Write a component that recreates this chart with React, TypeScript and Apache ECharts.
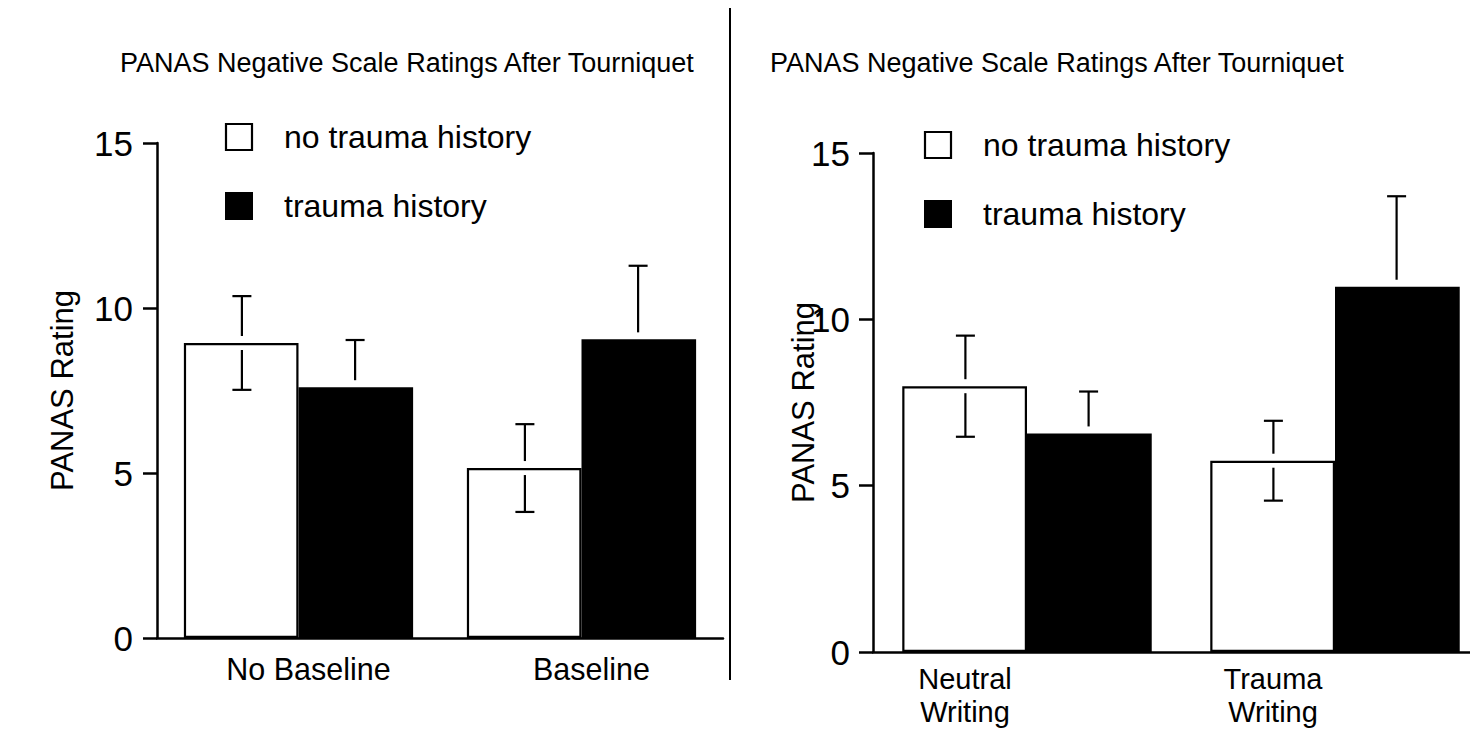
import React, { useEffect, useRef } from "react";
import * as echarts from "echarts";

const titleText = "PANAS Negative Scale Ratings After Tourniquet";
const yAxisTitle = "PANAS Rating";
const seriesNames = ["no trauma history", "trauma history"];
const yTicks = [0, 5, 10, 15];

const leftCategories = ["No Baseline", "Baseline"];
const leftNoTrauma = [8.94, 5.15];
const leftNoTraumaErr = [1.42, 1.33];
const leftTrauma = [7.6, 9.05];
const leftTraumaErr = [1.43, 2.23];

const rightCategories = ["Neutral\nWriting", "Trauma\nWriting"];
const rightNoTrauma = [7.99, 5.75];
const rightNoTraumaErr = [1.52, 1.2];
const rightTrauma = [6.57, 10.98];
const rightTraumaErr = [1.26, 2.72];

const FONT = "'Liberation Sans', Arial, Helvetica, sans-serif";

function errRender(side: number, showLower: boolean) {
  return (params: any, api: any) => {
    const idx = api.value(0);
    const mean = api.value(1);
    const err = api.value(2);
    const band = api.size([1, 0])[0];
    const c = api.coord([idx, mean]);
    const x = c[0] + side * band * 0.2;
    const y = c[1];
    const top = api.coord([idx, mean + err])[1];
    const bot = api.coord([idx, mean - err])[1];
    const gap = 7;
    const cap = 9.5;
    const st = { stroke: "#000", lineWidth: 2.2 };
    const children: any[] = [
      { type: "line", shape: { x1: x, y1: top, x2: x, y2: y - gap }, style: st },
      { type: "line", shape: { x1: x - cap, y1: top, x2: x + cap, y2: top }, style: st },
    ];
    if (showLower) {
      children.push({ type: "line", shape: { x1: x, y1: y + gap, x2: x, y2: bot }, style: st });
      children.push({ type: "line", shape: { x1: x - cap, y1: bot, x2: x + cap, y2: bot }, style: st });
    }
    return { type: "group", children };
  };
}

function errData(means: number[], errs: number[]) {
  return means.map((m, i) => [i, m, errs[i]]);
}

export default function App() {
  const ref = useRef<HTMLDivElement>(null);
  useEffect(() => {
    if (!ref.current) return;
    const chart = echarts.init(ref.current, null, { renderer: "svg" });

    const yAxisBase = (nameGap: number, labelMargin: number) => ({
      type: "value",
      min: yTicks[0],
      max: yTicks[yTicks.length - 1],
      interval: 5,
      name: yAxisTitle,
      nameLocation: "middle",
      nameRotate: 90,
      nameGap,
      nameMoveOverlap: false,
      nameTextStyle: { fontFamily: FONT, fontSize: 31, color: "#000" },
      axisLine: { show: true, lineStyle: { color: "#000", width: 2.5 } },
      axisTick: { show: true, length: 14, lineStyle: { color: "#000", width: 2.5 } },
      axisLabel: { fontFamily: FONT, fontSize: 35, color: "#000", margin: labelMargin },
      splitLine: { show: false },
    });

    const xAxisBase = (cats: string[], margin: number, padding: number[], fontSize: number) => ({
      type: "category",
      data: cats,
      axisLine: { show: true, lineStyle: { color: "#000", width: 2.5 } },
      axisTick: { show: false },
      axisLabel: { fontFamily: FONT, fontSize, color: "#000", margin, lineHeight: 33, padding },
    });

    const whiteStyle = { color: "#fff", borderColor: "#000", borderWidth: 2.2 };
    const blackStyle = { color: "#000", borderColor: "#000", borderWidth: 0 };

    const legendGraphic = (x: number, y1: number, y2: number, tx: number) => [
      { type: "rect", shape: { x, y: y1, width: 26, height: 26 }, style: { fill: "#fff", stroke: "#000", lineWidth: 2.2 } },
      { type: "text", x: tx, y: y1 + 13, style: { text: seriesNames[0], font: `32px ${FONT}`, fill: "#000", verticalAlign: "middle" } },
      { type: "rect", shape: { x: x - 1, y: y2, width: 28, height: 28 }, style: { fill: "#000" } },
      { type: "text", x: tx, y: y2 + 14, style: { text: seriesNames[1], font: `32px ${FONT}`, fill: "#000", verticalAlign: "middle" } },
    ];

    chart.setOption({
      animation: false,
      backgroundColor: "#fff",
      title: [
        { text: titleText, left: 120, top: 49, padding: 0, textStyle: { fontFamily: FONT, fontSize: 27, fontWeight: "normal", color: "#000" } },
        { text: titleText, left: 770, top: 49, padding: 0, textStyle: { fontFamily: FONT, fontSize: 27, fontWeight: "normal", color: "#000" } },
      ],
      grid: [
        { left: 157, top: 143, right: 1470 - 723, bottom: 730 - 638, outerBoundsMode: "none", containLabel: false },
        { left: 873, top: 153, right: -19, bottom: 730 - 652, outerBoundsMode: "none", containLabel: false },
      ],
      xAxis: [
        { ...xAxisBase(leftCategories, 14, [0, 0, 0, 20], 30.5), gridIndex: 0 },
        { ...xAxisBase(rightCategories, 10, [0, 124, 0, 0], 29), gridIndex: 1 },
      ],
      yAxis: [
        { ...yAxisBase(79, 24), gridIndex: 0 },
        { ...yAxisBase(54, 23), gridIndex: 1 },
      ],
      graphic: [
        { type: "line", shape: { x1: 730, y1: 8, x2: 730, y2: 680 }, style: { stroke: "#000", lineWidth: 2 } },
        ...legendGraphic(226, 124, 192, 284),
        ...legendGraphic(925, 132, 200, 983),
      ],
      series: [
        { name: seriesNames[0], type: "bar", xAxisIndex: 0, yAxisIndex: 0, data: leftNoTrauma, barWidth: "40.5%", barGap: "0%", itemStyle: whiteStyle, z: 2 },
        { name: seriesNames[1], type: "bar", xAxisIndex: 0, yAxisIndex: 0, data: leftTrauma, barWidth: "40.5%", barGap: "0%", itemStyle: blackStyle, z: 2 },
        { name: seriesNames[0], type: "bar", xAxisIndex: 1, yAxisIndex: 1, data: rightNoTrauma, barWidth: "40.5%", barGap: "0%", itemStyle: whiteStyle, z: 2 },
        { name: seriesNames[1], type: "bar", xAxisIndex: 1, yAxisIndex: 1, data: rightTrauma, barWidth: "40.5%", barGap: "0%", itemStyle: blackStyle, z: 2 },
        { type: "custom", xAxisIndex: 0, yAxisIndex: 0, data: errData(leftNoTrauma, leftNoTraumaErr), renderItem: errRender(-1, true), encode: { x: 0, y: 1 }, z: 5 },
        { type: "custom", xAxisIndex: 0, yAxisIndex: 0, data: errData(leftTrauma, leftTraumaErr), renderItem: errRender(1, false), encode: { x: 0, y: 1 }, z: 5 },
        { type: "custom", xAxisIndex: 1, yAxisIndex: 1, data: errData(rightNoTrauma, rightNoTraumaErr), renderItem: errRender(-1, true), encode: { x: 0, y: 1 }, z: 5 },
        { type: "custom", xAxisIndex: 1, yAxisIndex: 1, data: errData(rightTrauma, rightTraumaErr), renderItem: errRender(1, false), encode: { x: 0, y: 1 }, z: 5 },
      ],
    });
    return () => chart.dispose();
  }, []);
  return <div ref={ref} style={{ position: "absolute", left: 0, top: 0, width: 1470, height: 730 }} />;
}
